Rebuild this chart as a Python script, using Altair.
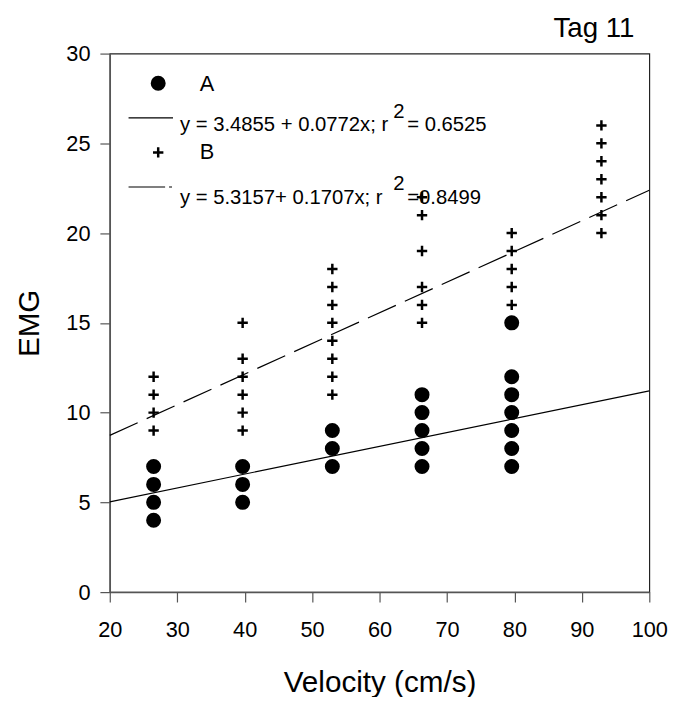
import altair as alt
import pandas as pd

FONT = "Liberation Sans"

# Group A (filled circles)
A_vel = [26.5, 26.5, 26.5, 26.5,
         39.7, 39.7, 39.7,
         53.0, 53.0, 53.0,
         66.3, 66.3, 66.3, 66.3, 66.3,
         79.6, 79.6, 79.6, 79.6, 79.6, 79.6, 79.6]
A_emg = [4, 5, 6, 7,
         5, 6, 7,
         7, 8, 9,
         7, 8, 9, 10, 11,
         7, 8, 9, 10, 11, 12, 15]

# Group B (crosses)
B_vel = [26.5, 26.5, 26.5, 26.5,
         39.7, 39.7, 39.7, 39.7, 39.7, 39.7,
         53.0, 53.0, 53.0, 53.0, 53.0, 53.0, 53.0, 53.0,
         66.3, 66.3, 66.3, 66.3, 66.3, 66.3,
         79.6, 79.6, 79.6, 79.6, 79.6,
         92.9, 92.9, 92.9, 92.9, 92.9, 92.9, 92.9]
B_emg = [9, 10, 11, 12,
         9, 10, 11, 12, 13, 15,
         11, 12, 13, 14, 15, 16, 17, 18,
         15, 16, 17, 19, 21, 22,
         16, 17, 18, 19, 20,
         20, 21, 22, 23, 24, 25, 26]

# Regression line end points (from the printed equations)
fit_x = [20, 100]
fitA_y = [5.03, 11.21]
fitB_y = [8.73, 22.39]

eqA_main = "y = 3.4855 + 0.0772x; r"
eqA_tail = "= 0.6525"
eqB_main = "y = 5.3157+ 0.1707x; r"
eqB_tail = "=0.8499"
corner_label = "Tag 11"

dfA = pd.DataFrame({"v": A_vel, "e": A_emg})
dfB = pd.DataFrame({"v": B_vel, "e": B_emg})
dfFitA = pd.DataFrame({"v": fit_x, "e": fitA_y})
dfFitB = pd.DataFrame({"v": fit_x, "e": fitB_y})
one = pd.DataFrame({"k": [0]})

CROSS = "M-1,0H1M0,-1V1"

xs = alt.Scale(domain=[20, 100], nice=False, zero=False)
ys = alt.Scale(domain=[0, 30], nice=False)

X = alt.X("v:Q", scale=xs, title="Velocity (cm/s)",
          axis=alt.Axis(values=[20, 30, 40, 50, 60, 70, 80, 90, 100],
                        titlePadding=28, labelPadding=18, labelFlush=False))
Y = alt.Y("e:Q", scale=ys, title="EMG",
          axis=alt.Axis(values=[0, 5, 10, 15, 20, 25, 30],
                        titlePadding=22, labelPadding=10, labelFlush=False))

ptsA = alt.Chart(dfA).mark_point(shape="circle", filled=True, color="black",
                                 size=230, opacity=1).encode(x=X, y=Y)
ptsB = alt.Chart(dfB).mark_point(shape=CROSS, filled=False, color="black",
                                 size=110, strokeWidth=2.5, opacity=1).encode(x="v:Q", y="e:Q")
lineA = alt.Chart(dfFitA).mark_line(color="black", strokeWidth=1.2).encode(x="v:Q", y="e:Q")
lineB = alt.Chart(dfFitB).mark_line(color="black", strokeWidth=1.2,
                                    strokeDash=[31, 10]).encode(x="v:Q", y="e:Q")

def txt(s, x, y, size=20.5, align="left", baseline="alphabetic"):
    return alt.Chart(one).mark_text(text=s, font=FONT, fontSize=size, align=align,
                                    baseline=baseline, color="black").encode(
        x=alt.value(x), y=alt.value(y))

legA_sym = alt.Chart(one).mark_point(shape="circle", filled=True, color="black",
                                     size=230, opacity=1).encode(x=alt.value(49), y=alt.value(30))
legB_sym = alt.Chart(one).mark_point(shape=CROSS, filled=False, color="black",
                                     size=110, strokeWidth=2.5, opacity=1).encode(x=alt.value(49), y=alt.value(100))
legA_line = alt.Chart(one).mark_rule(color="black", strokeWidth=1.2).encode(
    x=alt.value(19), x2=alt.value(64), y=alt.value(65))
legB_line = alt.Chart(one).mark_rule(color="black", strokeWidth=1.2,
                                     strokeDash=[37, 4, 3, 100]).encode(
    x=alt.value(19), x2=alt.value(64), y=alt.value(135))

layers = [
    lineA, lineB, ptsA, ptsB,
    legA_sym, legB_sym, legA_line, legB_line,
    txt("A", 91, 38, size=22), txt("B", 91, 107, size=22),
    txt(eqA_main, 71, 78), txt("2", 287, 65), txt(eqA_tail, 301, 78),
    txt(eqB_main, 71, 152), txt("2", 287, 138), txt(eqB_tail, 301, 152),
    txt(corner_label, 531, -17, size=28, align="right"),
]

chart = alt.layer(*layers).properties(
    width=546, height=545,
    autosize=alt.AutoSizeParams(type="none"),
    padding={"left": 103, "top": 42, "right": 25, "bottom": 102},
).configure_view(
    stroke="#222222", strokeWidth=1.2
).configure_axis(
    grid=False, domainColor="#555555", domainWidth=1.5, tickColor="#555555",
    tickWidth=1.2, tickSize=10, labelFont=FONT, labelFontSize=22, labelColor="black",
    titleFont=FONT, titleFontSize=30, titleFontWeight="normal", titleColor="black"
)

chart.save("out.html", embed_options={"renderer": "svg", "actions": False})
